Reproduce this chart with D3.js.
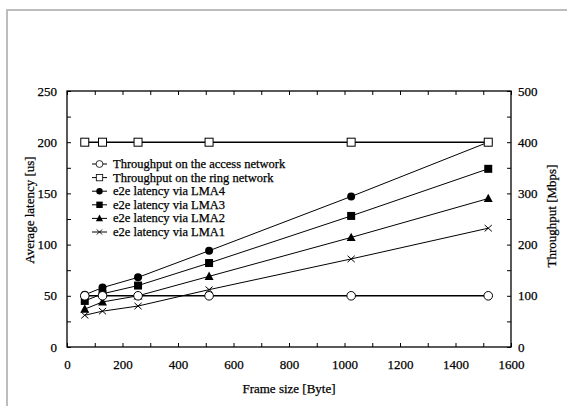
<!DOCTYPE html>
<html lang="en">
<head>
    <meta charset="UTF-8">
    <title>Latency and throughput</title>
    <script src="https://d3js.org/d3.v7.min.js"></script>
    <style>
        body { margin: 0; background: #fff; }
        svg text { font-family: "Liberation Serif", "Times New Roman", Times, serif !important; fill: #000; stroke: #000; stroke-width: 0.25px; }
    </style>
</head>
<body>
<script>
    const width  = 567;
    const height = 406;

    // frame sizes (Byte)
    const frameSizes = [64, 128, 256, 512, 1024, 1518];

    // e2e latency [us], left axis
    const lma4 = [51, 58, 68, 94, 147, 200];
    const lma3 = [45, 52, 60, 82, 128, 174];
    const lma2 = [37, 44, 50, 69, 107, 145];
    const lma1 = [31, 35, 40, 56, 86, 116];

    // throughput [Mbps], right axis
    const accessThroughput = [100, 100, 100, 100, 100, 100];
    const ringThroughput   = [400, 400, 400, 400, 400, 400];

    const legendLabels = [
        "Throughput on the access network",
        "Throughput on the ring network",
        "e2e latency via LMA4",
        "e2e latency via LMA3",
        "e2e latency via LMA2",
        "e2e latency via LMA1"
    ];

    const plotLeft = 67, plotRight = 511, plotTop = 91, plotBottom = 347;

    const x = d3.scaleLinear().domain([0, 1600]).range([plotLeft, plotRight]);
    const yL = d3.scaleLinear().domain([0, 250]).range([plotBottom, plotTop]);
    const yR = d3.scaleLinear().domain([0, 500]).range([plotBottom, plotTop]);

    const svg = d3.select("body").append("svg")
        .attr("width", width).attr("height", height);

    // outer grey frame
    svg.append("rect")
        .attr("x", 7).attr("y", 10)
        .attr("width", width + 10).attr("height", height + 10)
        .style("fill", "none").style("stroke", "#bdbdbd").style("stroke-width", 2);

    const fs = "13px";

    // axes (ticks pointing inward)
    const gx = svg.append("g").attr("transform", "translate(0," + plotBottom + ")")
        .call(d3.axisBottom(x).tickValues(d3.range(0, 1601, 100))
            .tickSizeInner(-4).tickSizeOuter(0).tickPadding(13)
            .tickFormat(d => d % 200 === 0 ? d : ""));
    const gxTop = svg.append("g").attr("transform", "translate(0," + plotTop + ")")
        .call(d3.axisTop(x).tickValues(d3.range(0, 1601, 100))
            .tickSizeInner(-4).tickSizeOuter(0).tickFormat(""));
    const gyL = svg.append("g").attr("transform", "translate(" + plotLeft + ",0)")
        .call(d3.axisLeft(yL).tickValues(d3.range(0, 251, 25))
            .tickSizeInner(-4).tickSizeOuter(0).tickPadding(10)
            .tickFormat(d => d % 50 === 0 ? d : ""));
    const gyR = svg.append("g").attr("transform", "translate(" + plotRight + ",0)")
        .call(d3.axisRight(yR).tickValues(d3.range(0, 501, 50))
            .tickSizeInner(-4).tickSizeOuter(0).tickPadding(7)
            .tickFormat(d => d % 100 === 0 ? d : ""));

    [gx, gxTop, gyL, gyR].forEach(g => {
        g.attr("font-family", null);
        g.select(".domain").remove();
        g.selectAll("text").style("font-size", fs);
        g.selectAll("line").style("stroke", "#000");
    });

    svg.append("rect")
        .attr("x", plotLeft).attr("y", plotTop)
        .attr("width", plotRight - plotLeft).attr("height", plotBottom - plotTop)
        .style("fill", "none").style("stroke", "#000").style("stroke-width", 1.3);

    // axis titles
    svg.append("text")
        .attr("x", (plotLeft + plotRight) / 2).attr("y", 393)
        .attr("text-anchor", "middle").style("font-size", fs)
        .text("Frame size [Byte]");
    svg.append("text")
        .attr("transform", "translate(34,210) rotate(-90)")
        .attr("text-anchor", "middle").style("font-size", fs)
        .text("Average latency [us]");
    svg.append("text")
        .attr("transform", "translate(556,216) rotate(-90)")
        .attr("text-anchor", "middle").style("font-size", fs)
        .text("Throughput [Mbps]");

    // markers
    const symbols = {
        openCircle: g => g.append("circle").attr("r", 4.3).style("fill", "#fff").style("stroke", "#000").style("stroke-width", 1),
        openSquare: g => g.append("rect").attr("x", -4).attr("y", -4).attr("width", 8).attr("height", 8).style("fill", "#fff").style("stroke", "#000").style("stroke-width", 1),
        circle: g => g.append("circle").attr("r", 4).style("fill", "#000"),
        square: g => g.append("rect").attr("x", -4).attr("y", -4).attr("width", 8).attr("height", 8).style("fill", "#000"),
        triangle: g => g.append("path").attr("d", "M0,-4.8L4.5,3.6L-4.5,3.6Z").style("fill", "#000"),
        cross: g => g.append("path").attr("d", "M-3.6,-3.2L3.6,3.2M-3.6,3.2L3.6,-3.2").style("stroke", "#000").style("stroke-width", 1).style("fill", "none")
    };

    const series = [
        { values: accessThroughput, scale: yR, sym: "openCircle", w: 1.4 },
        { values: ringThroughput,   scale: yR, sym: "openSquare", w: 1.4 },
        { values: lma4, scale: yL, sym: "circle",   w: 1 },
        { values: lma3, scale: yL, sym: "square",   w: 1 },
        { values: lma2, scale: yL, sym: "triangle", w: 1 },
        { values: lma1, scale: yL, sym: "cross",    w: 1 }
    ];

    // draw latency series first, throughput on top
    const drawOrder = [5, 4, 3, 2, 0, 1];
    drawOrder.forEach(i => {
        const s = series[i];
        const pts = frameSizes.map((f, j) => [f, s.values[j]]);
        const line = d3.line().x(d => x(d[0])).y(d => s.scale(d[1]));
        svg.append("path").attr("d", line(pts))
            .style("stroke", "#000").style("stroke-width", s.w).style("fill", "none");
        pts.forEach(p => {
            const g = svg.append("g").attr("transform", "translate(" + x(p[0]) + "," + s.scale(p[1]) + ")");
            symbols[s.sym](g);
        });
    });

    // legend
    const legendX = 92, legendY = 164, legendStep = 13.6;
    legendLabels.forEach((lab, i) => {
        const yy = legendY + i * legendStep;
        svg.append("line").attr("x1", legendX).attr("x2", legendX + 15)
            .attr("y1", yy).attr("y2", yy).style("stroke", "#000").style("stroke-width", 1);
        const g = svg.append("g").attr("transform", "translate(" + (legendX + 7.5) + "," + yy + ") scale(0.8)");
        symbols[series[i].sym](g);
        svg.append("text").attr("x", legendX + 21).attr("y", yy + 4)
            .style("font-size", "12.5px").text(lab);
    });
</script>
</body>
</html>
